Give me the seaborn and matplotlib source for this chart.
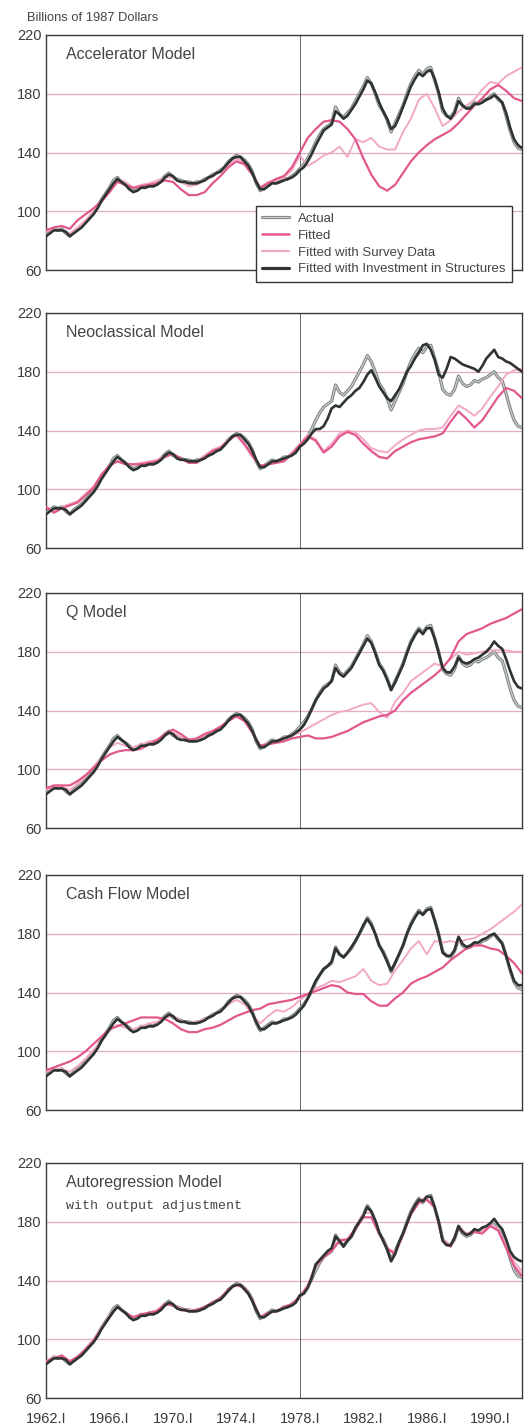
import numpy as np
import pandas as pd
import matplotlib
matplotlib.use("Agg")
import matplotlib.pyplot as plt
import seaborn as sns
from matplotlib.lines import Line2D

# ---------------------------
# Data (billions of 1987 dollars)
# quarterly series: 1962.I .. 1992.I, half-year series: 1962.0 .. 1992.0
# ---------------------------
quarters = 1962 + np.arange(121) / 4
halves = 1962 + np.arange(61) / 2

actual = [
    84, 86, 88, 87, 88, 85, 83, 86, 88, 90, 93, 96, 99, 103, 108, 112,
    116, 121, 123, 120, 118, 116, 114, 115, 117, 116, 118, 117, 119, 121, 124, 126,
    123, 122, 121, 120, 120, 119, 120, 120, 122, 123, 125, 126, 128, 130, 134, 136,
    138, 137, 135, 132, 127, 119, 114, 116, 118, 120, 119, 120, 122, 122, 124, 126,
    129, 132, 136, 141, 147, 152, 156, 158, 160, 171, 166, 164, 167, 170, 175, 180,
    185, 191, 187, 180, 172, 168, 162, 154, 160, 166, 172, 180, 187, 192, 196, 193,
    197, 198, 189, 180, 168, 165, 164, 168, 177, 172, 170, 171, 174, 173, 175, 176,
    178, 180, 176, 174, 165, 155, 147, 143, 142,
]

# "Fitted with Investment in Structures", 1962-1977 part (same in every panel)
struct_1962_77 = [
    83, 85, 87, 87, 87, 86, 83, 85, 87, 89, 92, 95, 98, 102, 107, 111,
    115, 119, 122, 120, 118, 115, 113, 114, 116, 116, 117, 117, 118, 120, 123, 125,
    124, 121, 120, 120, 119, 119, 119, 120, 121, 123, 124, 126, 127, 130, 133, 136,
    137, 137, 134, 131, 126, 120, 115, 115, 117, 119, 119, 120, 121, 122, 123, 125,
]

# Accelerator model
acc_fit = [
    87, 89, 90, 88, 94, 98, 102, 107, 113, 120, 118, 116, 117, 118, 119, 121,
    120, 115, 111, 111, 113, 119, 124, 130, 134, 132, 125, 116, 119, 122, 124, 130,
    140, 150, 156, 161, 162, 161, 156, 149, 136, 125, 117, 114, 118, 126, 134, 140,
    145, 149, 152, 155, 160, 166, 172, 177, 183, 186, 182, 177, 175,
]
acc_survey = [
    86, 88, 87, 85, 89, 94, 100, 106, 113, 122, 120, 116, 118, 119, 121, 123,
    123, 120, 117, 118, 121, 124, 127, 132, 136, 133, 126, 116, 120, 121, 123, 128,
    138, 131, 134, 138, 140, 144, 137, 149, 147, 150, 144, 142, 142, 154, 163, 176,
    180, 170, 158, 162, 168, 172, 176, 183, 188, 187, 192, 195, 198,
]
acc_struct_78 = [
    128, 130, 134, 139, 145, 150, 155, 157, 159, 168, 166, 163, 165, 169, 173, 178,
    183, 189, 187, 181, 174, 168, 163, 156, 158, 164, 171, 178, 185, 190, 194, 192,
    195, 196, 190, 181, 170, 165, 163, 167, 175, 172, 170, 170, 173, 173, 174, 176,
    177, 179, 177, 174, 167, 157, 149, 145, 143,
]

# Neoclassical model
neo_fit = [
    88, 84, 87, 89, 91, 96, 101, 110, 116, 119, 117, 117, 117, 118, 119, 122,
    124, 121, 118, 118, 122, 126, 128, 133, 137, 131, 123, 116, 117, 118, 119, 124,
    130, 136, 133, 125, 129, 136, 139, 137, 131, 126, 122, 121, 126, 129, 132, 134,
    135, 136, 138, 146, 153, 148, 142, 147, 155, 163, 169, 167, 162,
]
neo_survey = [
    88, 85, 88, 90, 92, 97, 102, 110, 116, 119, 118, 117, 118, 119, 120, 123,
    124, 121, 118, 119, 123, 127, 129, 134, 137, 130, 122, 116, 117, 118, 120, 125,
    131, 137, 134, 126, 131, 138, 140, 139, 134, 128, 126, 125, 130, 134, 137, 140,
    141, 141, 142, 150, 157, 154, 150, 155, 163, 170, 178, 181, 182,
]
neo_struct_78 = [
    129, 131, 134, 138, 141, 141, 143, 148, 155, 157, 156, 159, 162, 164, 167, 169,
    173, 178, 181, 176, 170, 166, 162, 160, 164, 168, 174, 180, 184, 189, 193, 198,
    199, 195, 188, 178, 176, 182, 190, 189, 187, 185, 184, 183, 182, 180, 184, 189,
    192, 195, 190, 189, 187, 186, 184, 182, 180,
]

# Q model
q_fit = [
    87, 89, 89, 89, 92, 96, 101, 106, 110, 112, 113, 113, 114, 117, 120, 124,
    127, 124, 120, 121, 124, 126, 129, 133, 136, 133, 125, 116, 117, 118, 119, 121,
    122, 123, 121, 121, 122, 124, 126, 129, 132, 134, 136, 137, 140, 147, 152, 156,
    160, 164, 169, 176, 187, 192, 194, 196, 199, 201, 203, 206, 209,
]
q_survey = [
    86, 88, 88, 86, 90, 95, 102, 108, 115, 118, 116, 115, 117, 119, 120, 123,
    125, 122, 119, 120, 123, 126, 129, 133, 136, 133, 125, 116, 118, 119, 121, 123,
    125, 128, 131, 134, 137, 139, 140, 142, 144, 145, 139, 135, 146, 152, 160, 164,
    168, 172, 170, 175, 180, 178, 179, 180, 181, 181, 181, 180, 180,
]
q_struct_78 = [
    127, 130, 135, 141, 147, 151, 155, 157, 160, 169, 165, 163, 166, 169, 174, 179,
    184, 189, 186, 179, 171, 167, 161, 154, 159, 165, 171, 179, 186, 191, 195, 192,
    196, 196, 189, 179, 169, 166, 166, 170, 176, 173, 172, 173, 175, 176, 178, 180,
    183, 187, 184, 182, 175, 167, 160, 156, 155,
]

# Cash flow model
cf_fit = [
    87, 89, 91, 93, 96, 100, 105, 110, 115, 117, 119, 121, 123, 123, 123, 122,
    119, 115, 113, 113, 115, 116, 118, 121, 124, 126, 128, 129, 132, 133, 134, 135,
    137, 139, 141, 143, 145, 144, 140, 139, 139, 134, 131, 131, 136, 140, 146, 149,
    151, 154, 157, 162, 166, 170, 172, 172, 170, 169, 165, 160, 153,
]
cf_survey = [
    86, 88, 88, 86, 90, 95, 101, 107, 114, 118, 116, 115, 117, 119, 120, 123,
    124, 121, 119, 120, 122, 124, 127, 132, 135, 132, 125, 119, 124, 128, 127, 130,
    135, 139, 143, 145, 148, 147, 149, 151, 156, 148, 145, 146, 155, 162, 170, 175,
    166, 175, 174, 175, 174, 176, 177, 180, 183, 187, 191, 195, 200,
]
cf_struct_78 = [
    128, 131, 136, 142, 148, 152, 156, 158, 161, 170, 166, 164, 167, 171, 175, 180,
    186, 190, 186, 180, 172, 167, 161, 155, 160, 166, 172, 180, 186, 191, 195, 193,
    196, 197, 189, 179, 167, 165, 165, 169, 178, 173, 171, 172, 174, 174, 176, 177,
    179, 180, 177, 173, 165, 156, 148, 145, 145,
]

# Autoregression model
ar_fit = [
    85, 87, 89, 85, 88, 93, 99, 107, 115, 122, 118, 115, 117, 118, 119, 124,
    123, 120, 119, 120, 122, 125, 128, 134, 137, 135, 127, 115, 118, 119, 122, 124,
    129, 136, 150, 156, 160, 167, 168, 175, 183, 183, 172, 162, 158, 171, 185, 193,
    195, 190, 167, 163, 176, 171, 173, 172, 177, 174, 162, 150, 143,
]
ar_survey = [
    85, 88, 88, 84, 88, 94, 100, 108, 116, 122, 118, 115, 117, 118, 120, 124,
    123, 121, 120, 120, 122, 125, 128, 133, 137, 135, 127, 115, 118, 119, 122, 124,
    129, 137, 151, 157, 161, 168, 168, 176, 186, 186, 173, 162, 159, 172, 187, 195,
    196, 189, 168, 164, 177, 172, 174, 174, 178, 175, 164, 153, 146,
]
ar_struct_78 = [
    130, 131, 135, 142, 151, 154, 157, 160, 162, 170, 167, 163, 167, 170, 176, 180,
    184, 190, 187, 181, 173, 167, 161, 153, 158, 166, 172, 179, 186, 191, 195, 194,
    197, 197, 190, 180, 167, 164, 164, 169, 177, 173, 171, 172, 175, 174, 176, 177,
    179, 182, 178, 175, 168, 160, 156, 154, 153,
]

panels = [
    ("Accelerator Model", acc_fit, acc_survey, acc_struct_78),
    ("Neoclassical Model", neo_fit, neo_survey, neo_struct_78),
    ("Q Model", q_fit, q_survey, q_struct_78),
    ("Cash Flow Model", cf_fit, cf_survey, cf_struct_78),
    ("Autoregression Model", ar_fit, ar_survey, ar_struct_78),
]

tick_years = [1962, 1966, 1970, 1974, 1978, 1982, 1986, 1990]
tick_labels = [f"{y}.I" for y in tick_years]

# ---------------------------
# Style
# ---------------------------
sns.set_style("white")
plt.rcParams["font.family"] = ["Liberation Sans", "DejaVu Sans"]

C_ACT = "#7c8380"
C_ACT_IN = "#cfd3d0"
C_FIT = "#e2578d"
C_SURV = "#f2a9c4"
C_STRUCT = "#2e3431"
C_GRID = "#e3abc4"
C_TEXT = "#3c3c3c"

W, H = 528, 1426
fig = plt.figure(figsize=(W / 100, H / 100), dpi=100)

left_px, width_px, height_px = 46, 476, 235
tops_px = [35, 313, 593, 875, 1163]


def draw_panel(ax, title, fit, survey, struct_post, bottom):
    struct = struct_1962_77 + struct_post
    df_act = pd.DataFrame({"date": quarters, "value": actual})
    df_str = pd.DataFrame({"date": quarters, "value": struct})
    df_fit = pd.DataFrame({"date": halves, "value": fit})
    df_sur = pd.DataFrame({"date": halves, "value": survey})

    sns.lineplot(data=df_act, x="date", y="value", ax=ax, color=C_ACT, linewidth=2.3, zorder=3)
    sns.lineplot(data=df_act, x="date", y="value", ax=ax, color=C_ACT_IN, linewidth=0.8, zorder=3)
    sns.lineplot(data=df_sur, x="date", y="value", ax=ax, color=C_SURV, linewidth=1.4, zorder=4)
    sns.lineplot(data=df_fit, x="date", y="value", ax=ax, color=C_FIT, linewidth=1.6, zorder=4)
    sns.lineplot(data=df_str, x="date", y="value", ax=ax, color=C_STRUCT, linewidth=1.9, zorder=5)

    ax.axvline(1978, color="#666666", linewidth=0.7, zorder=1)

    ax.set_xlim(1962, 1992)
    ax.set_ylim(60, 220)
    ax.set_yticks([60, 100, 140, 180, 220])
    ax.grid(axis="y", color=C_GRID, linewidth=0.9, zorder=0)
    ax.grid(axis="x", visible=False)
    ax.set_xlabel("")
    ax.set_ylabel("")
    for sp in ax.spines.values():
        sp.set_color("#3a3a3a")
        sp.set_linewidth(1.0)
    ax.tick_params(axis="y", length=0, pad=3, labelsize=10.5, labelcolor=C_TEXT)

    ax.set_xticks(tick_years)
    if bottom:
        ax.set_xticklabels(tick_labels)
        ax.tick_params(axis="x", direction="in", length=5, width=0.9, color="#3a3a3a",
                       pad=10, labelsize=10.5, labelcolor=C_TEXT)
    else:
        ax.tick_params(axis="x", length=0, labelbottom=False)

    ax.text(0.042, 0.915, title, transform=ax.transAxes, fontsize=11.5,
            color="#444444", va="center", ha="left")


axes = []
for i, (title, fit, survey, struct_post) in enumerate(panels):
    bottom_px = tops_px[i] + height_px
    ax = fig.add_axes([left_px / W, 1 - bottom_px / H, width_px / W, height_px / H])
    draw_panel(ax, title, fit, survey, struct_post, bottom=(i == len(panels) - 1))
    axes.append(ax)

# subtitle of the last panel (typewriter face)
axes[-1].text(0.042, 0.818, "with output adjustment", transform=axes[-1].transAxes,
              fontsize=9.5, color="#444444", va="center", ha="left",
              family=["Liberation Mono", "DejaVu Sans Mono"])

fig.text(27 / W, 1 - 18 / H, "Billions of 1987 Dollars", fontsize=9.3,
         color="#444444", va="center", ha="left")

# legend in the first panel
handles = [
    (Line2D([], [], color=C_ACT, linewidth=2.3), Line2D([], [], color=C_ACT_IN, linewidth=0.8)),
    Line2D([], [], color=C_FIT, linewidth=1.8),
    Line2D([], [], color=C_SURV, linewidth=1.6),
    Line2D([], [], color=C_STRUCT, linewidth=2.3),
]
labels = ["Actual", "Fitted", "Fitted with Survey Data", "Fitted with Investment in Structures"]
leg = axes[0].legend(handles, labels, loc="lower right", bbox_to_anchor=(0.979, -0.051),
                     borderaxespad=0, fontsize=9.5, frameon=True, fancybox=False,
                     framealpha=1, edgecolor="#333333", handlelength=2.0,
                     handletextpad=0.7, labelspacing=0.35, borderpad=0.5)
leg.get_frame().set_linewidth(1.0)
for t in leg.get_texts():
    t.set_color("#444444")

fig.savefig("out.png", dpi=100)
